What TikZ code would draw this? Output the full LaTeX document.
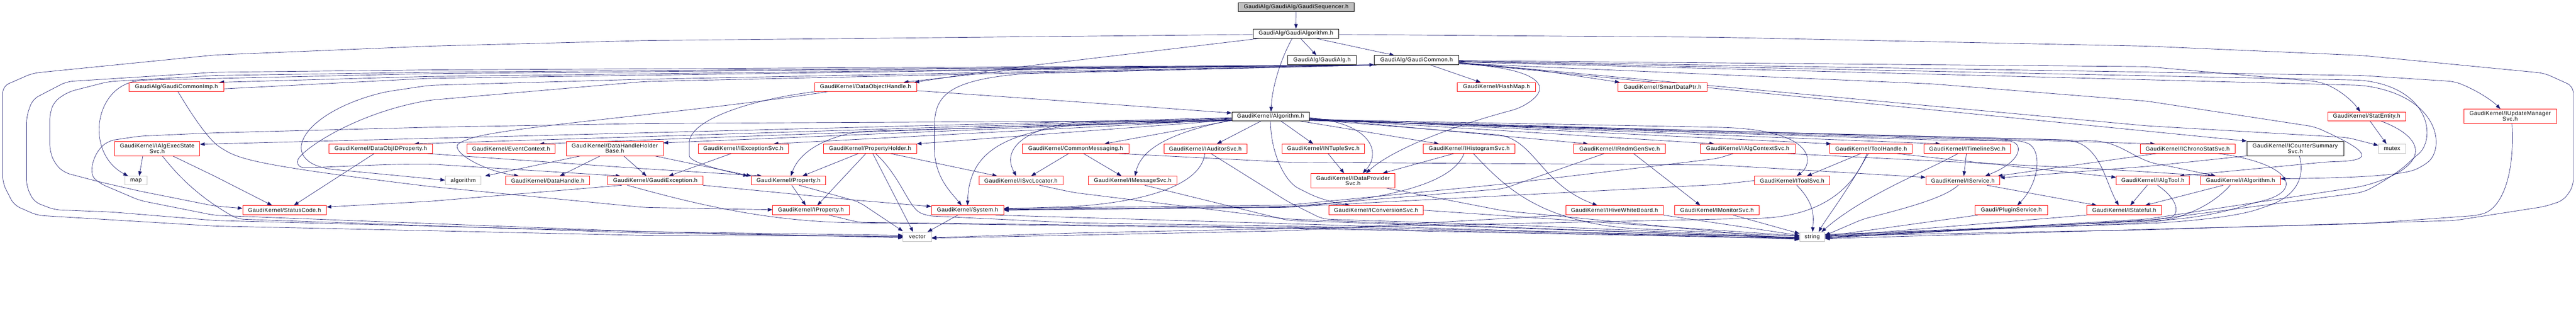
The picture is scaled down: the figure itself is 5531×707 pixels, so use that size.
\documentclass[tikz,border=0pt]{standalone}
\usepackage{fontspec}
\setmainfont{Liberation Sans}[LetterSpace=5.0]
\usetikzlibrary{arrows.meta}
\definecolor{edgec}{HTML}{191970}
\definecolor{grayb}{HTML}{BFBFBF}
\pgfdeclarelayer{bg}
\pgfsetlayers{bg,main}
\tikzset{
  bx/.style={draw=black, fill=white, line width=0.9pt, inner sep=0pt, align=center, font=\fontsize{12}{11}\selectfont},
  rbx/.style={bx, draw=red},
  gbx/.style={bx, draw=grayb},
  sbx/.style={bx, fill=grayb},
  e/.style={draw=edgec, line width=0.75pt, rounded corners=14pt, -{Triangle[length=10pt,width=7.5pt]}},
}
\newcommand\mkbox[7]{\node[#6, minimum width=#4pt, minimum height=#5pt] (#1) at (#2,#3) {#7};}
\begin{document}
\begin{tikzpicture}[x=1pt,y=-1pt]
\useasboundingbox (0,0) rectangle (5531,707);
% ---------------- nodes
\mkbox{seq}{2783}{15}{248}{19}{sbx}{GaudiAlg/GaudiAlg/GaudiSequencer.h}
\mkbox{galgo}{2782.5}{72}{183}{20}{bx}{GaudiAlg/GaudiAlgorithm.h}
\mkbox{galg}{2838.5}{129}{147}{20}{bx}{GaudiAlg/GaudiAlg.h}
\mkbox{gcommon}{3041.5}{129}{181}{20}{bx}{GaudiAlg/GaudiCommon.h}
\mkbox{gcimp}{379}{186.5}{204}{19}{rbx}{GaudiAlg/GaudiCommonImp.h}
\mkbox{doh}{1858.5}{186.5}{219}{19}{rbx}{GaudiKernel/DataObjectHandle.h}
\mkbox{hashmap}{3213}{186.5}{168}{19}{rbx}{GaudiKernel/HashMap.h}
\mkbox{smart}{3569.5}{186.5}{191}{19}{rbx}{GaudiKernel/SmartDataPtr.h}
\mkbox{algo}{2728}{249.5}{166}{19}{bx}{GaudiKernel/Algorithm.h}
\mkbox{statent}{5081.5}{249.5}{167}{19}{rbx}{GaudiKernel/StatEntity.h}
\mkbox{iupd}{5389.5}{249.5}{199}{31}{rbx}{GaudiKernel/IUpdateManager\\Svc.h}
\mkbox{iaes}{337.5}{318.5}{183}{31}{rbx}{GaudiKernel/IAlgExecState\\Svc.h}
\mkbox{doidp}{817.5}{319}{223}{20}{rbx}{GaudiKernel/DataObjIDProperty.h}
\mkbox{evctx}{1097.5}{319}{189}{20}{rbx}{GaudiKernel/EventContext.h}
\mkbox{dhhb}{1320}{318.5}{208}{31}{rbx}{GaudiKernel/DataHandleHolder\\Base.h}
\mkbox{iexc}{1596}{319}{194}{20}{rbx}{GaudiKernel/IExceptionSvc.h}
\mkbox{ph}{1868}{319}{200}{20}{rbx}{GaudiKernel/PropertyHolder.h}
\mkbox{cm}{2309.5}{319}{229}{20}{rbx}{GaudiKernel/CommonMessaging.h}
\mkbox{iaud}{2588}{319}{178}{20}{rbx}{GaudiKernel/IAuditorSvc.h}
\mkbox{intup}{2841.5}{319}{177}{20}{rbx}{GaudiKernel/INTupleSvc.h}
\mkbox{ihist}{3154.5}{319}{197}{20}{rbx}{GaudiKernel/IHistogramSvc.h}
\mkbox{irndm}{3477.5}{319}{197}{20}{rbx}{GaudiKernel/IRndmGenSvc.h}
\mkbox{iactx}{3752.5}{319}{203}{20}{rbx}{GaudiKernel/IAlgContextSvc.h}
\mkbox{toolh}{4017.5}{319}{177}{20}{rbx}{GaudiKernel/ToolHandle.h}
\mkbox{itl}{4224}{319}{186}{20}{rbx}{GaudiKernel/ITimelineSvc.h}
\mkbox{ichrono}{4697}{319}{204}{20}{rbx}{GaudiKernel/IChronoStatSvc.h}
\mkbox{icsum}{4928}{318.5}{208}{31}{bx}{GaudiKernel/ICounterSummary\\Svc.h}
\mkbox{mutex}{5136}{319}{58}{20}{gbx}{mutex}
\mkbox{map}{292}{387.5}{48}{19}{gbx}{map}
\mkbox{algorithm}{994.5}{387.5}{77}{19}{gbx}{algorithm}
\mkbox{dh}{1176}{387.5}{180}{19}{rbx}{GaudiKernel/DataHandle.h}
\mkbox{gexc}{1407}{387.5}{204}{19}{rbx}{GaudiKernel/GaudiException.h}
\mkbox{prop}{1693}{387.5}{160}{19}{rbx}{GaudiKernel/Property.h}
\mkbox{isvcloc}{2192}{387.5}{180}{19}{rbx}{GaudiKernel/ISvcLocator.h}
\mkbox{imsg}{2432}{387.5}{190}{19}{rbx}{GaudiKernel/IMessageSvc.h}
\mkbox{idp}{2905}{387.5}{180}{31}{rbx}{GaudiKernel/IDataProvider\\Svc.h}
\mkbox{itoolsvc}{3848}{387.5}{162}{19}{rbx}{GaudiKernel/IToolSvc.h}
\mkbox{iservice}{4214.5}{387.5}{159}{19}{rbx}{GaudiKernel/IService.h}
\mkbox{ialgtool}{4622.5}{387.5}{157}{19}{rbx}{GaudiKernel/IAlgTool.h}
\mkbox{ialgorithm}{4810.5}{387.5}{171}{19}{rbx}{GaudiKernel/IAlgorithm.h}
\mkbox{sc}{611}{451}{180}{20}{rbx}{GaudiKernel/StatusCode.h}
\mkbox{iprop}{1741}{451}{164}{20}{rbx}{GaudiKernel/IProperty.h}
\mkbox{system}{2077.5}{451}{155}{20}{rbx}{GaudiKernel/System.h}
\mkbox{iconv}{2954.5}{451}{203}{20}{rbx}{GaudiKernel/IConversionSvc.h}
\mkbox{ihive}{3466.5}{451}{209}{20}{rbx}{GaudiKernel/IHiveWhiteBoard.h}
\mkbox{imon}{3686.5}{451}{181}{20}{rbx}{GaudiKernel/IMonitorSvc.h}
\mkbox{plugin}{4318.5}{451}{155}{20}{rbx}{Gaudi/PluginService.h}
\mkbox{istateful}{4561}{451}{160}{20}{rbx}{GaudiKernel/IStateful.h}
\mkbox{vector}{1969.5}{508}{61}{20}{gbx}{vector}
\mkbox{string}{3891}{508}{54}{20}{gbx}{string}
% ---------------- edges
\begin{pgfonlayer}{bg}
\fill[white] (0,0) rectangle (5531,707);
\draw[e] (seq) -- (galgo);
% GaudiAlgorithm
\draw[e] ([xshift=10pt]galgo.south) -- ([xshift=-12pt]galg.north);
\draw[e] ([xshift=43pt]galgo.south) -- ([xshift=-48pt]gcommon.north);
\draw[e] ([xshift=-8pt]galgo.south) .. controls (2748,130) and (2731,190) .. ([xshift=1pt]algo.north);
\draw[e] ([yshift=-2pt]galgo.west) -- (1383,87) -- (922,99) -- (461,118) -- (70,157) -- (6,185) -- (6,393) -- (30,440) -- (80,462) -- (461,485) -- (1383,505) -- ([yshift=1pt]vector.west);
\draw[e] ([yshift=-2pt]galgo.east) -- (3688,80) -- (4610,99) -- (5071,119) -- (5463,157) -- (5525,185) -- (5525,400) -- (5504,430) -- (5464,443) -- (5271,473) -- (4610,493) -- ([yshift=2pt]string.east);
\draw[e] ([xshift=-78pt]galgo.south) -- (2305,130) -- (2150,148) -- ([xshift=105pt]doh.north);
% GaudiCommon
\draw[e] ([xshift=-88pt]gcommon.south) -- (922,164) -- ([xshift=92pt]gcimp.north);
\draw[e] ([xshift=-88pt]gcommon.south) -- (922,158) -- (300,172) .. controls (200,195) and (185,330) .. ([xshift=-17pt]map.north);
\draw[e] ([xshift=-88pt]gcommon.south) -- (922,150) -- (461,155) -- (143,175) -- (70,213) -- (57,250) -- (57,400) -- (73,433) -- (117,450) -- (242,455) -- (461,473) -- (1383,497) -- ([yshift=3pt]vector.west);
\draw[e] ([xshift=-88pt]gcommon.south) -- (922,155) -- (461,162) -- (233,175) -- (147,197) -- (117,217) -- (107,243) -- (107,323) -- (117,350) -- (137,370) -- (213,390) -- (300,410) -- (461,442) -- ([yshift=4pt]sc.west);
\draw[e] ([xshift=-88pt]gcommon.south) -- (1383,170) -- (922,183) -- (828,197) .. controls (660,240) and (600,330) .. (700,362) -- ([yshift=1pt]algorithm.west);
\draw[e] ([xshift=-88pt]gcommon.south) -- (1383,175) -- (922,215) .. controls (760,245) and (650,320) .. (634,355) .. controls (660,362) and (800,352) .. (922,352) -- ([xshift=-75pt]gexc.north);
\draw[e] ([xshift=30pt]gcommon.south) -- ([xshift=-34pt]hashmap.north);
\draw[e] ([yshift=-6pt]gcommon.east) -- (3300,150) -- ([xshift=-92pt]smart.north);
\draw[e] ([yshift=-1pt]gcommon.east) -- (4610,143) -- (4977,175) .. controls (5020,190) and (5050,215) .. ([xshift=-14pt]statent.north);
\draw[e] ([yshift=-2pt]gcommon.east) -- (5071,162) -- (5271,175) .. controls (5320,195) and (5350,215) .. ([xshift=-21pt]iupd.north);
\draw[e] ([yshift=-6pt]gcommon.east) -- ([xshift=-104pt]icsum.north);
\draw[e] ([yshift=-5pt]gcommon.east) -- (4610,270) -- (5040,295) -- ([yshift=7pt]mutex.west);
\draw[e] ([yshift=-7pt]gcommon.east) -- (4149,180) -- (4610,217) -- (4970,272) .. controls (5100,330) and (5090,345) .. (5000,347) -- ([xshift=57pt]ialgtool.north);
\draw[e] ([yshift=-3pt]gcommon.east) -- (5071,172) .. controls (5220,195) and (5230,300) .. (5181,340) .. controls (5150,370) and (5100,400) .. (5071,413) -- (4610,473) -- ([yshift=-1pt]string.east);
\draw[e] ([yshift=-4pt]gcommon.east) -- (5071,183) .. controls (5240,210) and (5250,320) .. (5201,357) .. controls (5150,380) and (5000,382) .. ([yshift=4pt]ialgorithm.east);
\draw[e] ([xshift=-86pt]gcommon.south) -- (2200,147) -- ([xshift=82pt]doh.north);
\draw[e] ([xshift=-86pt]gcommon.south) -- (2200,158) .. controls (2010,175) and (2006,220) .. (2006,300) .. controls (2006,380) and (2040,410) .. ([xshift=-13pt]system.north);
\draw[e] ([yshift=-8pt]gcommon.east) .. controls (3300,145) and (3345,185) .. (3260,233) .. controls (3120,270) and (2990,320) .. ([xshift=28pt]idp.north);
% GaudiCommonImp
\draw[e] ([yshift=-4pt]gcimp.east) -- (922,168) -- ([yshift=-10pt]gcommon.west);
\draw[e] ([xshift=3pt]gcimp.south) .. controls (420,260) and (450,300) .. (481,322) .. controls (528,345) and (594,360) .. (922,400) -- (1383,445) -- ([yshift=1pt]iprop.west);
% Algorithm
\draw[e] ([yshift=-3pt]algo.west) -- ([yshift=9pt]iaes.east);
\draw[e] ([yshift=-4pt]algo.west) -- ([xshift=72pt]doidp.north);
\draw[e] ([yshift=-5pt]algo.west) -- ([xshift=61pt]evctx.north);
\draw[e] ([yshift=-6pt]algo.west) -- ([yshift=12pt]dhhb.east);
\draw[e] ([yshift=-7pt]algo.west) -- ([xshift=65pt]iexc.north);
\draw[e] ([yshift=-8pt]algo.west) -- (ph.north east);
\draw[e] ([yshift=-9pt]algo.west) -- ([xshift=62pt]cm.north);
\draw[e] ([yshift=-9pt]algo.west) -- (2305,262) .. controls (2200,280) and (2150,320) .. ([xshift=-10pt]isvcloc.north);
\draw[e] ([yshift=-9pt]algo.west) -- (2305,268) .. controls (2150,290) and (2080,330) .. (system.north);
\draw[e] ([yshift=-8pt]algo.west) .. controls (2510,285) and (2450,320) .. ([xshift=5pt]imsg.north);
\draw[e] ([yshift=-9pt]algo.west) -- (1844,282) .. controls (1760,300) and (1715,330) .. ([xshift=5pt]prop.north);
\draw[e] ([yshift=-9pt]algo.west) -- (1383,265) -- (922,273) -- (461,285) -- (300,292) -- (233,302) .. controls (200,330) and (190,370) .. (213,393) -- (300,430) -- (461,462) -- (1383,497) -- ([yshift=-2pt]vector.west);
\draw[e] ([xshift=22pt]algo.south) -- ([xshift=-22pt]intup.north);
\draw[e] ([xshift=-20pt]algo.south) -- ([xshift=25pt]iaud.north);
\draw[e] ([yshift=-3pt]algo.east) .. controls (2950,265) and (2965,330) .. ([xshift=21pt]idp.north);
\draw[e] ([xshift=62pt]algo.south) -- ([xshift=-65pt]ihist.north);
\draw[e] ([yshift=-4pt]algo.east) -- ([xshift=-68pt]irndm.north);
\draw[e] ([yshift=-5pt]algo.east) -- ([xshift=-72pt]iactx.north);
\draw[e] ([yshift=-5pt]algo.east) -- ([xshift=-86pt]toolh.north);
\draw[e] ([yshift=-6pt]algo.east) -- ([xshift=-58pt]itl.north);
\draw[e] ([yshift=-6pt]algo.east) -- ([xshift=-70pt]ichrono.north);
\draw[e] ([yshift=-7pt]algo.east) -- (3227,290) .. controls (3300,320) and (3320,400) .. ([xshift=-37pt]ihive.north);
\draw[e] (algo.south) .. controls (2728,330) and (2760,390) .. (2800,410) .. controls (2830,425) and (2870,437) .. ([xshift=-56pt]iconv.north);
\draw[e] ([yshift=-7pt]algo.east) -- (3688,273) .. controls (3900,280) and (3895,350) .. ([xshift=10pt]itoolsvc.north);
\draw[e] ([yshift=-8pt]algo.east) -- (4149,300) -- (4300,302) .. controls (4345,305) and (4345,345) .. ([xshift=48pt]iservice.north);
\draw[e] ([yshift=-8pt]algo.east) -- (4149,297) -- (4340,302) .. controls (4385,320) and (4380,390) .. ([xshift=13pt]plugin.north);
\draw[e] ([yshift=-9pt]algo.east) -- (4430,300) .. controls (4510,310) and (4520,390) .. ([xshift=-12pt]istateful.north);
\draw[e] ([yshift=-9pt]algo.east) -- (4500,302) .. controls (4560,312) and (4590,345) .. (4650,355) -- ([xshift=-53pt]ialgorithm.north);
% DataObjectHandle
\draw[e] ([yshift=-8pt]doh.east) -- (2305,218) -- ([yshift=7pt]algo.west);
\draw[e] ([xshift=-107pt]doh.south) .. controls (1600,215) and (1480,260) .. (1480,320) .. controls (1480,350) and (1570,370) .. ([xshift=-87pt]prop.north);
\draw[e] ([xshift=-80pt]doh.south) .. controls (1500,240) and (1100,270) .. (1000,300) .. controls (960,320) and (1030,365) .. ([xshift=-62pt]dh.north);
% IAlgExecStateSvc
\draw[e] ([xshift=-31pt]iaes.south) -- ([xshift=7pt]map.north);
\draw[e] ([xshift=33pt]iaes.south) -- (461,378) -- ([xshift=-27pt]sc.north);
\draw[e] ([xshift=11pt]iaes.south) .. controls (400,400) and (450,435) .. (510,470) -- (1383,500) -- (vector.west);
% DataObjIDProperty
\draw[e] ([xshift=-14pt]doidp.south) -- ([xshift=20pt]sc.north);
\draw[e] ([xshift=100pt]doidp.south) -- (1383,362) -- ([xshift=-57pt]prop.north);
% DataHandleHolderBase
\draw[e] ([xshift=-73pt]dhhb.south) -- ([xshift=47pt]algorithm.north);
\draw[e] ([xshift=-31pt]dhhb.south) -- ([xshift=26pt]dh.north);
\draw[e] ([xshift=19pt]dhhb.south) -- ([xshift=-19pt]gexc.north);
\draw[e] ([xshift=85pt]dhhb.south) -- ([xshift=-80pt]prop.north);
% IExceptionSvc
\draw[e] ([xshift=-26pt]iexc.south) -- ([xshift=29pt]gexc.north);
% GaudiException
\draw[e] ([xshift=-72pt]gexc.south) -- (922,432) -- ([yshift=7pt]sc.east);
\draw[e] (gexc.south east) -- (1844,430) -- ([yshift=8pt]system.west);
\draw[e] ([xshift=-60pt]gexc.south) .. controls (1500,440) and (1650,475) .. (1844,478) -- (2766,490) -- ([yshift=-4pt]string.west);
% Property
\draw[e] ([xshift=7pt]prop.south) -- ([xshift=-11pt]iprop.north);
\draw[e] ([xshift=23pt]prop.south) -- (1844,433) -- ([yshift=12pt]vector.west);
\draw[e] ([xshift=39pt]iprop.south) -- (1844,477) -- (2766,488) -- ([yshift=-3pt]string.west);
% PropertyHolder
\draw[e] ([xshift=-25pt]ph.south) -- ([xshift=30pt]prop.north);
\draw[e] ([xshift=-9pt]ph.south) -- ([xshift=14pt]iprop.north);
\draw[e] ([xshift=6pt]ph.south) -- ([xshift=-9pt]vector.north);
\draw[e] ([xshift=12pt]ph.south) .. controls (1935,380) and (1950,445) .. (1990,463) -- (2305,478) -- (2766,485) -- ([yshift=-1pt]string.west);
\draw[e] ([xshift=44pt]ph.south) -- ([xshift=-51pt]isvcloc.north);
% CommonMessaging
\draw[e] ([xshift=17pt]cm.south) -- ([xshift=-24pt]imsg.north);
\draw[e] ([xshift=-15pt]cm.south) -- ([xshift=22pt]isvcloc.north);
\draw[e] ([xshift=92pt]cm.south) -- (2766,348) -- (3688,354) -- ([yshift=7pt]iservice.west);
% IAuditorSvc
\draw[e] ([xshift=-1pt]iaud.south) .. controls (2580,390) and (2480,430) .. (2305,443) -- ([yshift=3pt]system.east);
\draw[e] ([xshift=12pt]iaud.south) -- (2766,433) -- (2840,470) -- (3300,485) -- ([yshift=-2pt]string.west);
% row 5/6 services
\draw[e] ([xshift=10pt]intup.south) -- ([xshift=-19pt]idp.north);
\draw[e] ([xshift=-33pt]ihist.south) -- ([xshift=64pt]idp.north);
\draw[e] ([xshift=-11pt]ihist.south) .. controls (3120,390) and (3000,425) .. (2766,445) -- ([yshift=1pt]system.east);
\draw[e] ([xshift=9pt]ihist.south) .. controls (3230,400) and (3300,470) .. (3500,490) -- ([yshift=1pt]string.west);
\draw[e] ([xshift=30pt]irndm.south) -- ([xshift=-36pt]imon.north);
\draw[e] ([xshift=-33pt]irndm.south) -- (3227,405) -- (2766,443) -- ([yshift=2pt]system.east);
\draw[e] ([xshift=-31pt]iactx.south) -- (3688,340) -- (3227,395) -- (2766,440) -- ([yshift=4pt]system.east);
\draw[e] ([xshift=85pt]iactx.south) -- (4149,345) -- (4500,362) -- ([xshift=-60pt]ialgorithm.north);
\draw[e] (itoolsvc.west) -- (3688,396) -- (2766,444) -- ([yshift=0pt]system.east);
\draw[e] ([xshift=10pt]itoolsvc.south) .. controls (3900,440) and (3893,470) .. ([xshift=1pt]string.north);
% ToolHandle
\draw[e] ([xshift=-22pt]toolh.south) -- ([xshift=32pt]itoolsvc.north);
\draw[e] ([xshift=-6pt]toolh.south) .. controls (3960,420) and (3920,470) .. ([xshift=14pt]string.north);
\draw[e] ([xshift=55pt]toolh.south) -- (4149,338) -- ([yshift=7pt]ialgtool.west);
\draw[e] ([xshift=-9pt]toolh.south) .. controls (3985,390) and (3930,455) .. (3790,468) -- (2305,500) -- ([yshift=-2pt]vector.east);
% ITimelineSvc
\draw[e] ([xshift=-2pt]itl.south) -- ([xshift=2pt]iservice.north);
\draw[e] ([xshift=-20pt]itl.south) .. controls (4130,370) and (4000,420) .. ([xshift=20pt]string.north);
% IChronoStatSvc / ICounterSummarySvc
\draw[e] ([xshift=-67pt]ichrono.south) -- ([xshift=75pt]iservice.north);
\draw[e] ([xshift=66pt]ichrono.south) .. controls (4920,350) and (4950,410) .. (4840,435) .. controls (4760,460) and (4700,470) .. (4600,475) -- ([yshift=4pt]string.east);
\draw[e] (icsum.south west) -- (4610,357) -- ([yshift=6pt]iservice.east);
\draw[e] ([xshift=9pt]icsum.south) .. controls (4950,380) and (4930,420) .. (4860,445) .. controls (4800,465) and (4700,475) .. (4600,480) -- ([yshift=5pt]string.east);
% IAlgorithm / IAlgTool / IService
\draw[e] ([xshift=-37pt]ialgorithm.south) -- ([xshift=45pt]istateful.north);
\draw[e] ([xshift=-22pt]ialgorithm.south) .. controls (4760,430) and (4700,470) .. (4600,478) -- ([yshift=2pt]string.east);
\draw[e] ([xshift=-12pt]ialgtool.south) -- ([xshift=13pt]istateful.north);
\draw[e] ([xshift=10pt]ialgtool.south) .. controls (4680,430) and (4680,462) .. (4645,470) -- ([yshift=-3pt]string.east);
\draw[e] ([xshift=52pt]iservice.south) -- ([xshift=-59pt]istateful.north);
\draw[e] ([xshift=-10pt]iservice.south) .. controls (4180,420) and (4120,440) .. (4000,470) -- ([yshift=3pt]string.east);
\draw[e] (istateful.south west) -- (string.east);
\draw[e] ([xshift=-72pt]plugin.south) -- ([yshift=1pt]string.east);
% StatEntity / IUpdateManagerSvc
\draw[e] ([xshift=7pt]statent.south) -- ([xshift=-12pt]mutex.north);
\draw[e] ([xshift=30pt]statent.south) .. controls (5220,300) and (5210,360) .. (5071,400) -- (4610,470) -- ([yshift=-2pt]string.east);
\draw[e] ([xshift=4pt]iupd.south) .. controls (5400,380) and (5370,445) .. (5321,462) -- (5071,480) -- (4610,492) -- ([yshift=-4pt]string.east);
% bottom row services
\draw[e] ([xshift=26pt]imsg.south) -- (2766,473) -- ([yshift=-2pt]string.west);
\draw[e] ([xshift=40pt]isvcloc.south) -- (2305,413) -- (2766,470) -- ([yshift=-3pt]string.west);
\draw[e] ([xshift=-21pt]system.south) -- ([xshift=22pt]vector.north);
\draw[e] ([xshift=60pt]system.south) -- (2766,480) -- ([yshift=-5pt]string.west);
\draw[e] ([xshift=71pt]idp.south) -- (3227,452) -- ([yshift=-6pt]string.west);
\draw[e] (iconv.east) -- ([yshift=2pt]string.west);
\draw[e] (ihive.south east) -- ([yshift=3pt]string.west);
\draw[e] (ihive.south west) -- (2766,495) -- ([yshift=-3pt]vector.east);
\draw[e] ([xshift=35pt]imon.south) -- ([yshift=7pt]string.west);
\end{pgfonlayer}
\end{tikzpicture}
\end{document}
